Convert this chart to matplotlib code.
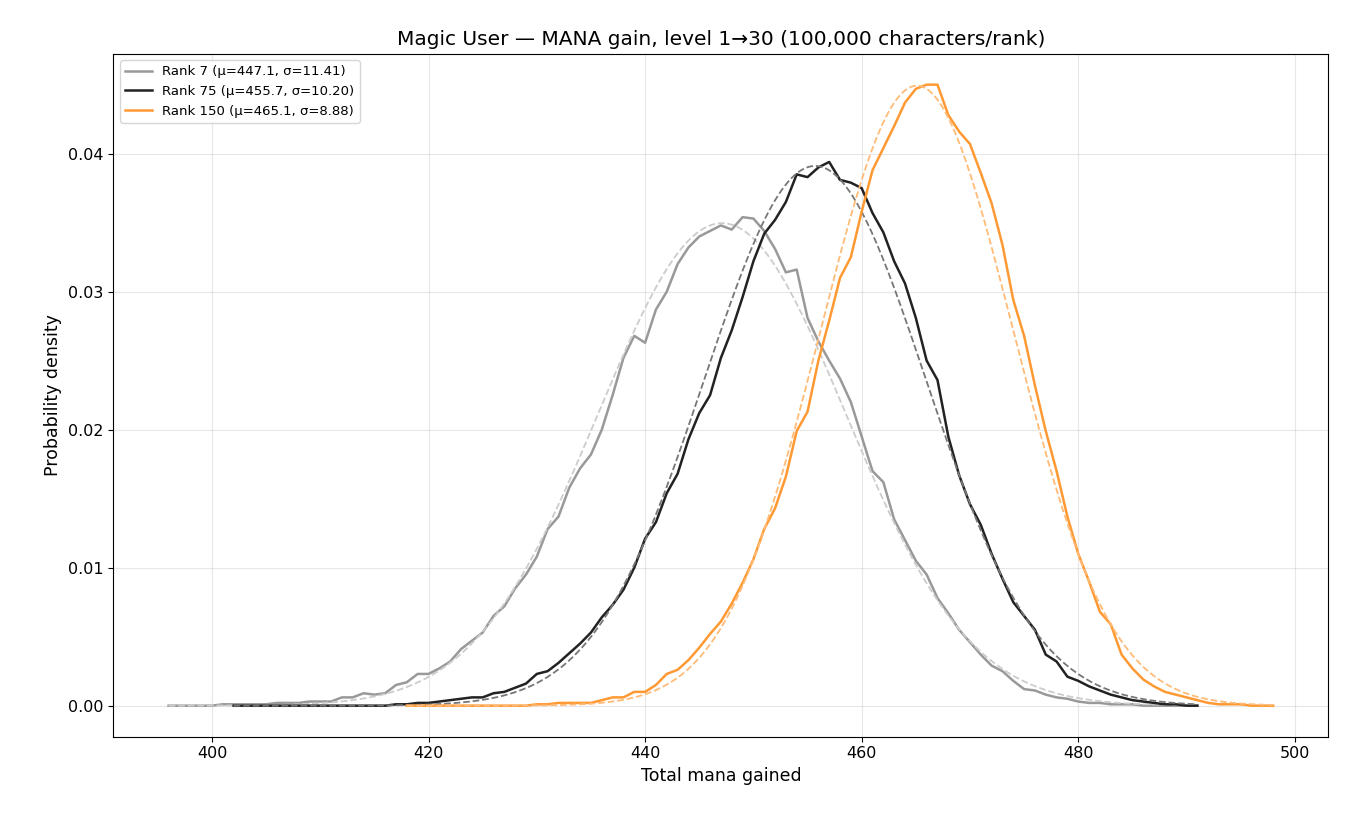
import numpy as np
import matplotlib.pyplot as plt

# Data
r7_x = np.arange(396, 492)
r7_y = [0, 0, 0, 0, 0, 0.0001, 0.0001, 0.0001, 0.0001,
        0.0001, 0.0002, 0.0002, 0.0002, 0.0003, 0.0003, 0.0003, 0.0006, 0.0006, 0.0009,
        0.0008, 0.0009, 0.0015, 0.0017, 0.0023, 0.0023, 0.0027, 0.0032, 0.0041, 0.0047,
        0.0053, 0.0065, 0.0072, 0.0085, 0.0095, 0.0108, 0.0128, 0.0137, 0.0158, 0.0172,
        0.0182, 0.0200, 0.0225, 0.0252, 0.0268, 0.0263, 0.0287, 0.0300, 0.0320, 0.0332,
        0.0340, 0.0344, 0.0348, 0.0345, 0.0354, 0.0353, 0.0344, 0.0331, 0.0314, 0.0316,
        0.0281, 0.0264, 0.0250, 0.0237, 0.0220, 0.0195, 0.0170, 0.0162, 0.0135, 0.0120,
        0.0105, 0.0095, 0.0078, 0.0067, 0.0055, 0.0046, 0.0037, 0.0029, 0.0025, 0.0018,
        0.0012, 0.0011, 0.0008, 0.0006, 0.0005, 0.0003, 0.0002, 0.0002, 0.0001, 0.0001,
        0.0001, 0, 0, 0, 0, 0, 0]

r75_x = np.arange(402, 492)
r75_y = [0, 0, 0, 0, 0, 0, 0, 0, 0, 0, 0, 0, 0, 0, 0,
         0.0001, 0.0001, 0.0002, 0.0002, 0.0003, 0.0004, 0.0005, 0.0006, 0.0006,
         0.0009, 0.0010, 0.0013, 0.0016, 0.0023, 0.0025, 0.0031, 0.0038, 0.0045, 0.0053,
         0.0064, 0.0073, 0.0084, 0.0100, 0.0121, 0.0133, 0.0154, 0.0168, 0.0193, 0.0212,
         0.0225, 0.0252, 0.0272, 0.0296, 0.0322, 0.0342, 0.0352, 0.0365, 0.0385, 0.0383,
         0.0390, 0.0394, 0.0381, 0.0379, 0.0375, 0.0357, 0.0343, 0.0322, 0.0306, 0.0281,
         0.0250, 0.0236, 0.0195, 0.0167, 0.0146, 0.0131, 0.0110, 0.0092, 0.0075, 0.0065,
         0.0055, 0.0037, 0.0032, 0.0021, 0.0018, 0.0014, 0.0011, 0.0008, 0.0006, 0.0004,
         0.0003, 0.0002, 0.0001, 0.0001, 0, 0]

r150_x = np.arange(418, 499)
r150_y = [0, 0, 0, 0, 0, 0, 0, 0, 0, 0, 0, 0,
          0.0001, 0.0001, 0.0002, 0.0002, 0.0002, 0.0002, 0.0004, 0.0006, 0.0006, 0.0010,
          0.0010, 0.0015, 0.0023, 0.0026, 0.0033, 0.0042, 0.0052, 0.0061, 0.0074, 0.0089,
          0.0106, 0.0128, 0.0143, 0.0166, 0.0199, 0.0213, 0.0250, 0.0279, 0.0310, 0.0325,
          0.0358, 0.0388, 0.0404, 0.0420, 0.0437, 0.0447, 0.0450, 0.0450, 0.0428, 0.0416,
          0.0407, 0.0386, 0.0364, 0.0334, 0.0294, 0.0268, 0.0232, 0.0199, 0.0170, 0.0137,
          0.0110, 0.0090, 0.0068, 0.0059, 0.0037, 0.0027, 0.0019, 0.0014, 0.0010, 0.0008,
          0.0006, 0.0004, 0.0002, 0.0001, 0.0001, 0.0001, 0, 0, 0]

ranks = [7, 75, 150]
mus = [447.1, 455.7, 465.1]
sigmas = [11.41, 10.20, 8.88]
colors = ['#999999', '#222222', '#ff9933']
fit_colors = ['#cccccc', '#777777', '#ffbb77']

fig, ax = plt.subplots(figsize=(13.5, 8.25), dpi=100)
for rk, xs, ys, mu, sd, c, fc in zip(ranks, [r7_x, r75_x, r150_x], [r7_y, r75_y, r150_y],
                                   mus, sigmas, colors, fit_colors):
    ax.plot(xs, ys, color=c, lw=1.8, label=f'Rank {rk} (μ={mu:.1f}, σ={sd:.2f})')
    xf = np.linspace(xs[0], xs[-1], 300)
    pdf = np.exp(-0.5 * ((xf - mu) / sd) ** 2) / (sd * np.sqrt(2 * np.pi))
    ax.plot(xf, pdf, color=fc, lw=1.3, ls='--')

ax.set_title('Magic User — MANA gain, level 1→30 (100,000 characters/rank)', fontsize=14.5)
ax.set_xlabel('Total mana gained', fontsize=12.5)
ax.set_ylabel('Probability density', fontsize=12.5)
ax.tick_params(labelsize=11.5)
ax.grid(True, alpha=0.3)
ax.legend(loc='upper left', fontsize=9.5)
fig.subplots_adjust(left=0.084, right=0.984, top=0.935, bottom=0.107)
fig.savefig('out.png')
